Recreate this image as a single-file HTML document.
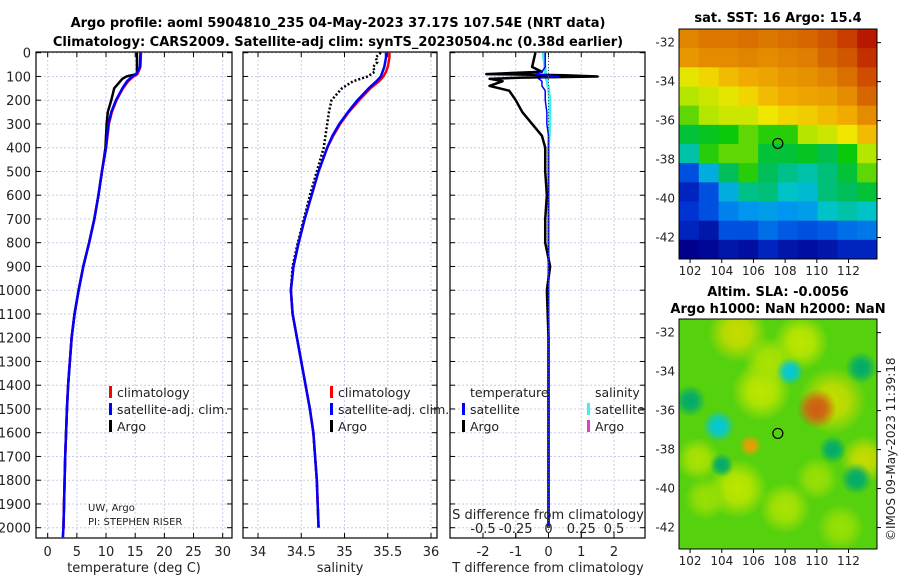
<!DOCTYPE html>
<html><head><meta charset="utf-8"><style>
body{margin:0;background:#fff;width:900px;height:580px;overflow:hidden;font-family:"Liberation Sans","DejaVu Sans",sans-serif}
svg text{font-family:"DejaVu Sans","Liberation Sans",sans-serif}
</style></head><body>
<svg id="fig" width="900" height="580" xmlns="http://www.w3.org/2000/svg">
<text x="338" y="27" text-anchor="middle" font-size="13" font-weight="bold">Argo profile: aoml 5904810_235 04-May-2023 37.17S 107.54E (NRT data)</text>
<text x="338" y="46" text-anchor="middle" font-size="13" font-weight="bold">Climatology: CARS2009. Satellite-adj clim: synTS_20230504.nc (0.38d earlier)</text>
<text x="778" y="22" text-anchor="middle" font-size="13" font-weight="bold">sat. SST: 16 Argo: 15.4</text>
<text x="778" y="296" text-anchor="middle" font-size="13" font-weight="bold">Altim. SLA: -0.0056</text>
<text x="778" y="313" text-anchor="middle" font-size="13" font-weight="bold">Argo h1000: NaN h2000: NaN</text>
<text transform="translate(895,541) rotate(-90)" font-size="12" fill="#222">©IMOS 09-May-2023 11:39:18</text>
<g id="g"></g>
</svg>
<script>
// depth levels (m)
const depthArgoT=[0,90,100,110,150,200,250,300,400,500,600,700,800,900,1000,1100,1200,1300,1400,1500,1700,2000];
const tempArgo=[15.3,15.3,13.5,12.8,11.4,10.9,10.3,10.1,9.9,9.3,8.7,8.0,7.1,6.1,5.3,4.6,4.1,3.8,3.5,3.3,3.0,2.7];
const depthClim=[0,60,90,100,120,150,200,250,300,400,500,600,700,800,900,1000,1100,1200,1300,1400,1500,1700,2000,2040];
const tempClim=[16.0,15.9,15.4,14.7,13.8,12.9,11.8,11.0,10.5,10.0,9.3,8.7,8.0,7.1,6.1,5.3,4.6,4.1,3.8,3.5,3.3,3.0,2.7,2.6];
const tempSat=[15.9,15.8,15.2,14.5,13.6,12.8,11.7,10.9,10.4,10.0,9.3,8.7,8.0,7.1,6.1,5.3,4.6,4.1,3.8,3.5,3.3,3.0,2.7,2.6];
const salArgoDepth=[0,20,40,60,80,100,120,150,200,250,300,350,400,500,600,700,800,900,1000,1100,1200,1300,1400,1500,1600,1800,2000];
const salArgo=[35.42,35.36,35.38,35.33,35.35,35.27,35.1,34.97,34.85,34.82,34.80,34.78,34.76,34.68,34.60,34.53,34.46,34.40,34.38,34.40,34.45,34.50,34.55,34.60,34.64,34.68,34.70];
const salClim=[35.52,35.52,35.51,35.50,35.48,35.45,35.40,35.30,35.17,35.05,34.95,34.87,34.80,34.70,34.62,34.54,34.47,34.41,34.38,34.40,34.45,34.50,34.55,34.60,34.64,34.68,34.70];
const salSat=[35.48,35.48,35.47,35.46,35.44,35.42,35.37,35.28,35.15,35.04,34.94,34.86,34.80,34.70,34.62,34.54,34.47,34.41,34.38,34.40,34.45,34.50,34.55,34.60,34.64,34.68,34.70];
const dTDepth=[0,60,80,90,95,100,105,110,120,140,160,200,250,300,350,400,500,600,700,800,900,1000,1200,1500,2000];
const dTArgo=[-0.4,-0.5,-0.2,-1.9,0.5,1.5,-0.8,-1.8,-1.4,-1.8,-1.2,-1.0,-0.8,-0.5,-0.2,-0.1,-0.1,-0.05,-0.1,-0.1,0.05,-0.05,0,0,0];
const dTSat=[-0.1,-0.1,-0.2,-0.4,0,0.3,-0.2,-0.3,-0.2,-0.2,-0.1,-0.1,-0.05,-0.05,0,0,0,0,0,0,0,0,0,0,0];
const dSDepth=[0,50,100,150,200,300,400,600,1000,1500,2000];
const dSSat=[-0.04,-0.03,-0.02,0.0,0.01,0.01,0.0,0.0,0.0,0.0,0.0];
const depthTicks=[0,100,200,300,400,500,600,700,800,900,1000,1100,1200,1300,1400,1500,1600,1700,1800,1900,2000];
const tTicks=[0,5,10,15,20,25,30];
const sTicks=[34,34.5,35,35.5,36];
const dTTicks=[-2,-1,0,1,2];
const dSTickLabels=["-0.5","-0.25","0","0.25","0.5"];
const dSTicks=[-0.5,-0.25,0,0.25,0.5];
const lonTicks=[102,104,106,108,110,112];
const latTicks=[-32,-34,-36,-38,-40,-42];
// SST grid rows (north to south)
const sstRows=[
[18.6,18.8,18.8,18.9,18.8,18.9,19.0,19.2,19.5,19.8],
[18.3,18.5,18.5,18.6,18.5,18.6,18.7,19.0,19.2,19.6],
[17.2,17.5,17.8,18.0,18.1,18.3,18.4,18.6,18.9,19.3],
[16.8,17.0,17.2,17.5,17.8,18.0,18.1,18.2,18.5,19.0],
[16.5,16.8,17.0,17.0,17.3,17.5,17.6,17.8,18.0,18.5],
[15.8,16.0,16.2,16.5,16.3,16.3,16.8,17.0,17.3,17.8],
[15.0,16.3,16.5,16.5,15.8,15.8,16.0,15.6,16.2,16.8],
[13.5,14.5,15.5,16.3,15.5,15.2,15.0,15.3,15.8,16.5],
[13.0,13.5,14.5,15.2,15.3,14.8,14.7,15.3,15.5,15.8],
[13.2,13.5,14.0,14.2,14.3,14.2,14.3,14.8,15.0,14.8],
[13.0,12.8,13.5,13.5,13.8,13.6,13.5,13.6,13.8,13.9],
[12.5,12.6,12.8,12.7,13.0,12.8,12.7,12.8,13.0,13.0]];
// SLA anomaly features
const slaLon=[105,109,106.5,111,105,108,113,102.5,110,107,103,111.5,103.8,108.3,102,112.8,112.5,111,104,110,105.8];
const slaLat=[-32,-32.5,-35,-35.5,-40,-41,-38.5,-38.5,-39.5,-33.5,-40.5,-42,-36.8,-34,-35.5,-33.8,-39.5,-38,-38.8,-35.9,-37.8];
const slaVal=[0.45,0.4,0.4,0.45,0.4,0.35,0.45,0.35,0.3,0.35,0.3,0.3,-1.0,-1.0,-0.5,-0.5,-0.5,-0.5,-0.5,1.0,0.75];
const slaRad=[30,28,30,34,30,26,24,22,22,26,22,24,16,14,16,16,16,14,12,20,11];

const NS="http://www.w3.org/2000/svg";
const G=document.getElementById('g');
function el(t,a,p){const e=document.createElementNS(NS,t);for(const k in a)e.setAttribute(k,a[k]);(p||G).appendChild(e);return e;}
function lin(d0,d1,r0,r1){return v=>r0+(v-d0)*(r1-r0)/(d1-d0);}
const Y=lin(0,2000,52.7,527.7);
const PB=538;
function frame(x0,x1,name){
  for(const d of depthTicks){const l=el('line',{x1:x0,x2:x1,y1:Y(d),y2:Y(d),stroke:'#c8cce8','stroke-width':1,'stroke-dasharray':'2,2'});}
  const r=el('rect',{x:x0,y:52,width:x1-x0,height:PB-52,fill:'none',stroke:'#000','stroke-width':1.2});
  
  for(const d of depthTicks){el('line',{x1:x0,x2:x0+5,y1:Y(d),y2:Y(d),stroke:'#000'});el('line',{x1:x1-5,x2:x1,y1:Y(d),y2:Y(d),stroke:'#000'});}
}
function vgrid(xs,X){for(const v of xs){const l=el('line',{x1:X(v),x2:X(v),y1:52,y2:PB,stroke:'#c8cce8','stroke-dasharray':'2,2'});}}
function xticks(xs,X,labs){xs.forEach((v,i)=>{el('line',{x1:X(v),x2:X(v),y1:PB-5,y2:PB,stroke:'#000'});el('line',{x1:X(v),x2:X(v),y1:52,y2:57,stroke:'#000'});const t=el('text',{x:X(v),y:556,'text-anchor':'middle','font-size':13,fill:'#222'});t.textContent=labs?labs[i]:v;});}
function line(ds,vs,X,style,name){const p=el('polyline',Object.assign({points:ds.map((d,i)=>X(vs[i])+','+Y(d)).join(' '),fill:'none','stroke-linejoin':'round'},style));return p;}
function txt(x,y,s,fs,name,anchor){const t=el('text',{x:x,y:y,'font-size':fs||13,fill:'#222','text-anchor':anchor||'start'});t.textContent=s;return t;}

// Panel 1 temperature
const XT=lin(0,30,47.7,222.7);
frame(36,232,'temperature-panel');vgrid(tTicks,XT);
for(const d of depthTicks){txt(31,Y(d)+5,String(d),13,'y-tick-label','end');}
xticks(tTicks,XT);
line(depthArgoT,tempArgo,XT,{stroke:'#000','stroke-width':2.5},'argo-temp-line');
line(depthClim,tempClim,XT,{stroke:'#f00','stroke-width':2.5},'clim-temp-line');
line(depthClim,tempSat,XT,{stroke:'#00f','stroke-width':2.5},'sat-temp-line');
txt(134,572,'temperature (deg C)',13,'x-axis-title','middle');
[['#f00','climatology',397],['#00f','satellite-adj. clim.',414],['#000','Argo',431]].forEach(a=>{el('rect',{x:109,y:a[2]-11,width:3,height:12,fill:a[0]});txt(117,a[2],a[1],12.5,'legend-entry');});
txt(88,511,'UW, Argo',10,'institution-label');txt(88,525,'PI: STEPHEN RISER',10,'pi-label');

// Panel 2 salinity
const XS=lin(34,36,258,431);
frame(243,437,'salinity-panel');vgrid(sTicks,XS);xticks(sTicks,XS,['34','34.5','35','35.5','36']);
line(salArgoDepth,salArgo,XS,{stroke:'#000','stroke-width':2.5,'stroke-dasharray':'2,2'},'argo-sal-line');
line(salArgoDepth,salClim,XS,{stroke:'#f00','stroke-width':2.5},'clim-sal-line');
line(salArgoDepth,salSat,XS,{stroke:'#00f','stroke-width':2.5},'sat-sal-line');
txt(340,572,'salinity',13,'x-axis-title','middle');
[['#f00','climatology',397],['#00f','satellite-adj. clim.',414],['#000','Argo',431]].forEach(a=>{el('rect',{x:330,y:a[2]-11,width:3,height:12,fill:a[0]});txt(338,a[2],a[1],12.5,'legend-entry');});

// Panel 3 differences
const XD=lin(-2,2,483,614);
const XSd=lin(-0.5,0.5,483,614);
frame(450,645,'difference-panel');vgrid(dTTicks,XD);xticks(dTTicks,XD);
line(dSDepth,dSSat,XSd,{stroke:'#3df0f0','stroke-width':3},'sat-sal-diff-line');
line(dTDepth,dTArgo,XD,{stroke:'#000','stroke-width':2.5},'argo-temp-diff-line');
line(dTDepth,dTSat,XD,{stroke:'#00f','stroke-width':1.5},'sat-temp-diff-line');
el('line',{x1:XD(0),x2:XD(0),y1:52,y2:PB,stroke:'#555','stroke-dasharray':'1,2'});
dSTicks.forEach((v,i)=>{el('line',{x1:XSd(v),x2:XSd(v),y1:PB-5,y2:PB,stroke:'#000'});txt(XSd(v),533,dSTickLabels[i],13,'s-diff-tick-label','middle');});
txt(548,519,'S difference from climatology',13,'s-diff-axis-title','middle');
txt(548,572,'T difference from climatology',13,'x-axis-title','middle');
txt(470,397,'temperature',12.5,'legend-heading');txt(595,397,'salinity',12.5,'legend-heading');
[['#00f','satellite',414],['#000','Argo',431]].forEach(a=>{el('rect',{x:462,y:a[2]-11,width:3,height:12,fill:a[0]});txt(470,a[2],a[1],12.5,'legend-entry');});
[['#3df0f0','satellite',414],['#e040c0','Argo',431]].forEach(a=>{el('rect',{x:587,y:a[2]-11,width:3,height:12,fill:a[0]});txt(595,a[2],a[1],12.5,'legend-entry');});

// colormaps
const sstStops=[[12.5,[0,0,140]],[13.3,[0,60,220]],[14.2,[0,150,240]],[14.8,[0,195,200]],[15.5,[0,190,90]],[16.2,[10,200,10]],[16.8,[180,230,0]],[17.3,[240,230,0]],[18.0,[240,170,0]],[18.8,[220,120,0]],[19.5,[200,60,0]],[20.0,[170,0,0]]];
const slaStops=[[-1,[0,200,220]],[-0.5,[0,170,110]],[0,[40,200,20]],[0.4,[190,230,0]],[0.7,[240,170,0]],[1,[210,90,20]]];
function cmap(stops,v){if(v<=stops[0][0])return 'rgb('+stops[0][1]+')';for(let i=1;i<stops.length;i++){if(v<=stops[i][0]){const a=stops[i-1],b=stops[i],t=(v-a[0])/(b[0]-a[0]);return 'rgb('+a[1].map((c,k)=>Math.round(c+(b[1][k]-c)*t)).join(',')+')';}}return 'rgb('+stops[stops.length-1][1]+')';}
function mapAxes(x0,y0,x1,y1,name){
  const LX=lin(101.3,113.8,x0,x1),LY=lin(-31.3,-43.1,y0,y1);
  const r=el('rect',{x:x0,y:y0,width:x1-x0,height:y1-y0,fill:'none',stroke:'#000'});
  lonTicks.forEach(v=>{el('line',{x1:LX(v),x2:LX(v),y1:y1,y2:y1+4,stroke:'#000'});txt(LX(v),y1+16,String(v),12,'lon-tick-label','middle');});
  latTicks.forEach(v=>{el('line',{x1:x1,x2:x1+4,y1:LY(v),y2:LY(v),stroke:'#000'});txt(675,LY(v)+4,String(v),12,'lat-tick-label','end');});
  return [LX,LY];
}
// SST map
const sx0=679,sy0=29,sx1=877,sy1=259;
const cw=(sx1-sx0)/10,ch=(sy1-sy0)/12;
sstRows.forEach((row,ri)=>row.forEach((v,ci)=>{const c=el('rect',{x:sx0+ci*cw,y:sy0+ri*ch,width:cw+0.5,height:ch+0.5,fill:cmap(sstStops,v)});}));
const [SX,SY]=mapAxes(sx0,sy0,sx1,sy1,'sst-map');
el('circle',{cx:SX(107.54),cy:SY(-37.17),r:5,fill:'none',stroke:'#000','stroke-width':1.2});
// SLA map
const ax0=679,ay0=319,ax1=877,ay1=549;
const defs=el('defs',{});
const clip=el('clipPath',{id:'slaclip'},defs);el('rect',{x:ax0,y:ay0,width:ax1-ax0,height:ay1-ay0},clip);
el('rect',{x:ax0,y:ay0,width:ax1-ax0,height:ay1-ay0,fill:cmap(slaStops,0.12)});
const blobs=el('g',{'clip-path':'url(#slaclip)'});
const [AX,AY]=mapAxes(ax0,ay0,ax1,ay1,'sla-map');
slaLon.forEach((lo,i)=>{const id='gr'+i;const rg=el('radialGradient',{id:id},defs);const col=cmap(slaStops,slaVal[i]);el('stop',{offset:'0',"stop-color":col},rg);el('stop',{offset:'0.45',"stop-color":col,"stop-opacity":0.85},rg);el('stop',{offset:'1',"stop-color":col,"stop-opacity":0},rg);const c=el('circle',{cx:AX(lo),cy:AY(slaLat[i]),r:slaRad[i],fill:`url(#${id})`},blobs);});
el('circle',{cx:AX(107.54),cy:AY(-37.17),r:5,fill:'none',stroke:'#000','stroke-width':1.2});
</script>
</body></html>
